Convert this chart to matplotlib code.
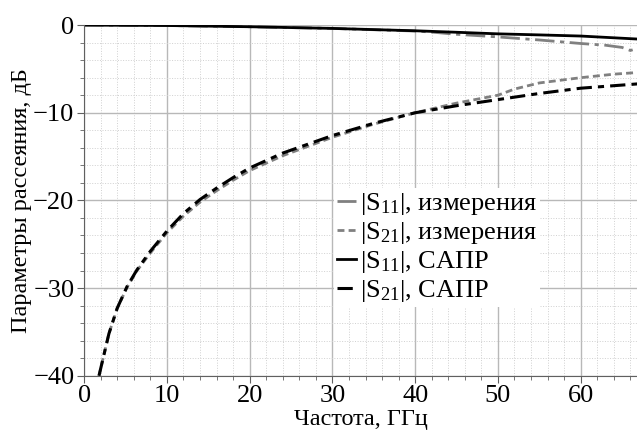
import matplotlib
matplotlib.use("Agg")
import matplotlib.pyplot as plt
from matplotlib.ticker import MultipleLocator

plt.rcParams['font.family'] = ['Liberation Serif', 'DejaVu Serif']
plt.rcParams['mathtext.fontset'] = 'custom'
plt.rcParams['mathtext.rm'] = 'Liberation Serif'
plt.rcParams['mathtext.it'] = 'Liberation Serif:italic'

# |S11|, CAD
f_s11_cad = [0, 10, 20, 30, 40, 45, 50, 55, 60, 64, 67]
s11_cad = [0, -0.05, -0.19, -0.38, -0.65, -0.82, -1.0, -1.12, -1.25, -1.45, -1.6]

# |S11|, measured
f_s11_meas = [0, 10, 20, 30, 40, 42, 45, 50, 55, 60, 63, 65, 66, 67]
s11_meas = [0, -0.05, -0.19, -0.38, -0.68, -0.8, -1.05, -1.35, -1.7, -2.1, -2.3, -2.55, -2.9, -2.6]

# |S21|, CAD
f_s21_cad = [1.8, 3, 4, 5.2, 6.4, 8, 10, 12, 14, 16, 18, 20, 24, 30, 35, 40, 45, 50, 55, 60, 67]
s21_cad = [-40, -35.2, -32.3, -29.8, -27.9, -25.8, -23.5, -21.5, -19.9, -18.6, -17.4,
           -16.3, -14.6, -12.6, -11.2, -10.0, -9.2, -8.5, -7.8, -7.2, -6.7]

# |S21|, measured
f_s21_meas = [1.8, 3, 4, 5.2, 6.4, 8, 10, 12, 14, 16, 18, 20, 24, 30, 35, 40, 45, 50, 52, 55, 60, 64, 67]
s21_meas = [-40, -35.2, -32.3, -29.9, -28.0, -26.0, -23.7, -21.8, -20.2, -18.9, -17.7,
            -16.6, -14.9, -12.8, -11.3, -10.0, -8.9, -8.0, -7.3, -6.6, -6.0, -5.6, -5.4]

fig = plt.figure(figsize=(6.37, 4.4), dpi=100)
ax = fig.add_axes([0.132, 0.146, 0.868, 0.797])

gray = '#808080'
ax.plot(f_s11_meas, s11_meas, color=gray, lw=2.0, dashes=(7, 2, 1.5, 2),
        label=r'$|\mathrm{S}_{11}|$, измерения')
ax.plot(f_s21_meas, s21_meas, color=gray, lw=2.0, dashes=(2.5, 1.5),
        label=r'$|\mathrm{S}_{21}|$, измерения')
ax.plot(f_s11_cad, s11_cad, color='black', lw=2.0,
        label=r'$|\mathrm{S}_{11}|$, САПР')
ax.plot(f_s21_cad, s21_cad, color='black', lw=2.2, dashes=(5, 2, 2, 2),
        label=r'$|\mathrm{S}_{21}|$, САПР')

ax.set_xlim(0, 66.8)
ax.set_ylim(-40, 0)
ax.xaxis.set_major_locator(MultipleLocator(10))
ax.xaxis.set_minor_locator(MultipleLocator(2))
ax.yaxis.set_major_locator(MultipleLocator(10))
ax.yaxis.set_minor_locator(MultipleLocator(2))
ax.grid(which='major', color='#b8b8b8', lw=1.0)
ax.grid(which='minor', color='#d0d0d0', lw=0.7, ls=':')
ax.set_axisbelow(True)

for s in ['top', 'right']:
    ax.spines[s].set_visible(False)
for s in ['left', 'bottom']:
    ax.spines[s].set_color('#606060')
ax.tick_params(which='both', direction='out', colors='#606060', labelcolor='black', labelsize=19)
ax.tick_params(which='major', length=5, pad=2)
ax.tick_params(which='minor', length=3)

ax.set_xlabel('Частота, ГГц', fontsize=17.5, labelpad=1)
ax.set_ylabel('Параметры рассеяния, дБ', fontsize=17.5, labelpad=1)

leg = ax.legend(loc='upper left', bbox_to_anchor=(0.452, 0.535), fontsize=19,
                frameon=True, framealpha=1, edgecolor='none', fancybox=False,
                handlelength=0.75, handletextpad=0.15, labelspacing=0.12,
                borderpad=0.1, borderaxespad=0)

fig.savefig('out.png', dpi=100)
